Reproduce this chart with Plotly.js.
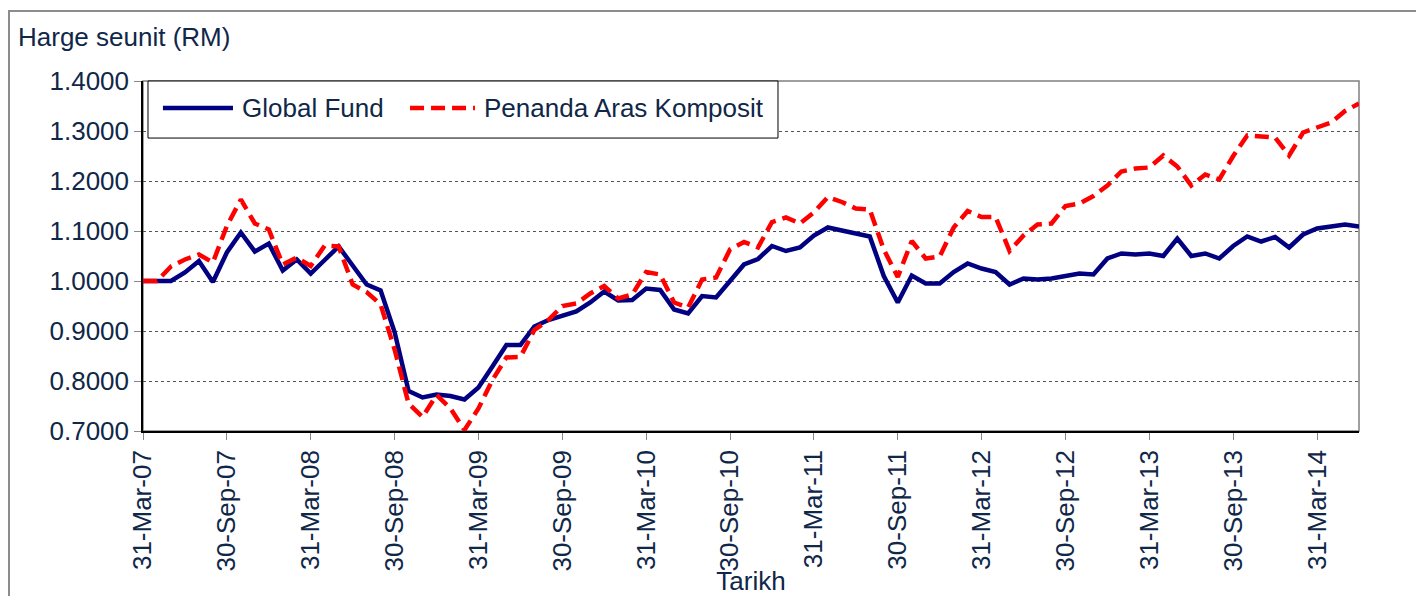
<!DOCTYPE html>
<html>
<head>
<meta charset="utf-8">
<script src="https://cdn.plot.ly/plotly-3.0.1.min.js"></script>
<style>
  body { margin: 0; background: #fff; overflow: hidden; }
  #frame { position: absolute; left: 8px; top: 10px; width: 1420px; height: 600px;
           border-left: 2px solid #8c8c8c; border-top: 2px solid #8c8c8c; }
  #plot { position: absolute; left: 0; top: 0; width: 1416px; height: 596px; }
</style>
</head>
<body>
<div id="frame"></div>
<div id="plot"></div>
<script>
// month-end dates, Mar 2007 to Jun 2014
let dates = [
  '31-Mar-07','30-Apr-07','31-May-07','30-Jun-07','31-Jul-07','31-Aug-07','30-Sep-07','31-Oct-07','30-Nov-07','31-Dec-07',
  '31-Jan-08','29-Feb-08','31-Mar-08','30-Apr-08','31-May-08','30-Jun-08','31-Jul-08','31-Aug-08','30-Sep-08','31-Oct-08','30-Nov-08','31-Dec-08',
  '31-Jan-09','28-Feb-09','31-Mar-09','30-Apr-09','31-May-09','30-Jun-09','31-Jul-09','31-Aug-09','30-Sep-09','31-Oct-09','30-Nov-09','31-Dec-09',
  '31-Jan-10','28-Feb-10','31-Mar-10','30-Apr-10','31-May-10','30-Jun-10','31-Jul-10','31-Aug-10','30-Sep-10','31-Oct-10','30-Nov-10','31-Dec-10',
  '31-Jan-11','28-Feb-11','31-Mar-11','30-Apr-11','31-May-11','30-Jun-11','31-Jul-11','31-Aug-11','30-Sep-11','31-Oct-11','30-Nov-11','31-Dec-11',
  '31-Jan-12','29-Feb-12','31-Mar-12','30-Apr-12','31-May-12','30-Jun-12','31-Jul-12','31-Aug-12','30-Sep-12','31-Oct-12','30-Nov-12','31-Dec-12',
  '31-Jan-13','28-Feb-13','31-Mar-13','30-Apr-13','31-May-13','30-Jun-13','31-Jul-13','31-Aug-13','30-Sep-13','31-Oct-13','30-Nov-13','31-Dec-13',
  '31-Jan-14','28-Feb-14','31-Mar-14','30-Apr-14','31-May-14','30-Jun-14'
];

let globalFund = [
  1.000, 1.000, 1.000, 1.017, 1.040, 0.998, 1.057, 1.097, 1.059, 1.075,
  1.021, 1.043, 1.015, 1.042, 1.069, 1.031, 0.993, 0.981, 0.898, 0.780, 0.767, 0.773,
  0.770, 0.763, 0.787, 0.829, 0.872, 0.872, 0.909, 0.922, 0.930, 0.939, 0.957, 0.979,
  0.961, 0.962, 0.985, 0.982, 0.943, 0.935, 0.970, 0.967, 1.000, 1.033, 1.044, 1.070,
  1.060, 1.067, 1.091, 1.107, 1.101, 1.095, 1.089, 1.010, 0.957, 1.011, 0.995, 0.995,
  1.018, 1.035, 1.025, 1.018, 0.993, 1.005, 1.003, 1.005, 1.011, 1.015, 1.013, 1.045,
  1.055, 1.053, 1.055, 1.050, 1.085, 1.050, 1.055, 1.045, 1.070, 1.089, 1.079, 1.088,
  1.067, 1.093, 1.105, 1.109, 1.113, 1.109
];

let benchmark = [
  1.000, 1.000, 1.029, 1.043, 1.053, 1.037, 1.110, 1.163, 1.115, 1.103,
  1.033, 1.047, 1.030, 1.071, 1.069, 0.993, 0.978, 0.953, 0.863, 0.755, 0.728, 0.772,
  0.745, 0.702, 0.745, 0.802, 0.847, 0.848, 0.902, 0.922, 0.950, 0.955, 0.975, 0.990,
  0.965, 0.973, 1.018, 1.013, 0.957, 0.947, 1.003, 1.007, 1.063, 1.078, 1.067, 1.118,
  1.127, 1.115, 1.137, 1.168, 1.158, 1.145, 1.143, 1.063, 1.008, 1.080, 1.045, 1.049,
  1.107, 1.140, 1.128, 1.128, 1.060, 1.091, 1.113, 1.115, 1.150, 1.155, 1.170, 1.191,
  1.219, 1.225, 1.227, 1.251, 1.229, 1.191, 1.213, 1.203, 1.250, 1.291, 1.289, 1.287,
  1.251, 1.297, 1.307, 1.317, 1.340, 1.355
];

let tickLabels = ['31-Mar-07','30-Sep-07','31-Mar-08','30-Sep-08','31-Mar-09','30-Sep-09','31-Mar-10',
  '30-Sep-10','31-Mar-11','30-Sep-11','31-Mar-12','30-Sep-12','31-Mar-13','30-Sep-13','31-Mar-14'];

let seriesNames = ['Global Fund', 'Penanda Aras Komposit'];
let seriesColors = ['#000080', '#ff0000'];

let textColor = '#0f2748';
let fontFamily = '"Liberation Sans", Arial, sans-serif';
let redDash = '14px,7px';

let trace1 = {
  x: dates,
  y: globalFund,
  name: seriesNames[0],
  mode: 'lines',
  line: {color: seriesColors[0], width: 4.5},
  type: 'scatter'
};

let trace2 = {
  x: dates,
  y: benchmark,
  name: seriesNames[1],
  mode: 'lines',
  line: {color: seriesColors[1], width: 4.5, dash: redDash},
  type: 'scatter'
};

// legend drawn by hand so the line samples are as long as in the original
let legendY = 0.923;
let legendShapes = [
  {type: 'rect', xref: 'paper', yref: 'paper', x0: 0.0041, x1: 0.5222, y0: 0.837, y1: 1,
   line: {color: '#000', width: 1}, fillcolor: '#fff', layer: 'above'},
  {type: 'line', xref: 'paper', yref: 'paper', x0: 0.0164, x1: 0.0740, y0: legendY, y1: legendY,
   line: {color: seriesColors[0], width: 4.5}, layer: 'above'},
  {type: 'line', xref: 'paper', yref: 'paper', x0: 0.2196, x1: 0.2730, y0: legendY, y1: legendY,
   line: {color: seriesColors[1], width: 4.5, dash: redDash}, layer: 'above'}
];

let layout = {
  width: 1416,
  height: 596,
  margin: {l: 143, r: 57, t: 81, b: 165},
  paper_bgcolor: 'rgba(0,0,0,0)',
  plot_bgcolor: '#fff',
  font: {family: fontFamily, size: 26, color: textColor},
  showlegend: false,
  xaxis: {
    type: 'category',
    range: [0, dates.length - 1],
    tickmode: 'array',
    tickvals: tickLabels,
    ticktext: tickLabels,
    tickangle: -90,
    ticks: 'outside', ticklen: 7, tickcolor: '#888',
    showgrid: false,
    showline: true, linecolor: '#000', linewidth: 1.5,
    zeroline: false,
    tickfont: {size: 26, color: textColor},
    title: {text: 'Tarikh', font: {size: 26, color: textColor}, standoff: 17}
  },
  yaxis: {
    range: [0.7, 1.4],
    dtick: 0.1,
    tickformat: '.4f',
    ticks: 'outside', ticklen: 7, tickcolor: '#888',
    showgrid: true, gridcolor: '#555', griddash: 'dot', gridwidth: 1,
    showline: true, linecolor: '#000', linewidth: 1.5,
    zeroline: false,
    tickfont: {size: 26, color: textColor}
  },
  shapes: [{
    type: 'rect', xref: 'paper', yref: 'paper', x0: 0, x1: 1, y0: 0, y1: 1,
    line: {color: '#808080', width: 1.5}, layer: 'below'
  }].concat(legendShapes),
  annotations: [
    {text: 'Harge seunit (RM)', showarrow: false,
     xref: 'paper', yref: 'paper', x: -0.1045, y: 1.126,
     xanchor: 'left', yanchor: 'middle', font: {size: 26, color: textColor}},
    {text: seriesNames[0], showarrow: false,
     xref: 'paper', yref: 'paper', x: 0.0798, y: legendY,
     xanchor: 'left', yanchor: 'middle', font: {size: 26, color: textColor}},
    {text: seriesNames[1], showarrow: false,
     xref: 'paper', yref: 'paper', x: 0.2788, y: legendY,
     xanchor: 'left', yanchor: 'middle', font: {size: 26, color: textColor}}
  ]
};

Plotly.newPlot('plot', [trace1, trace2], layout, {displayModeBar: false});
</script>
</body>
</html>
